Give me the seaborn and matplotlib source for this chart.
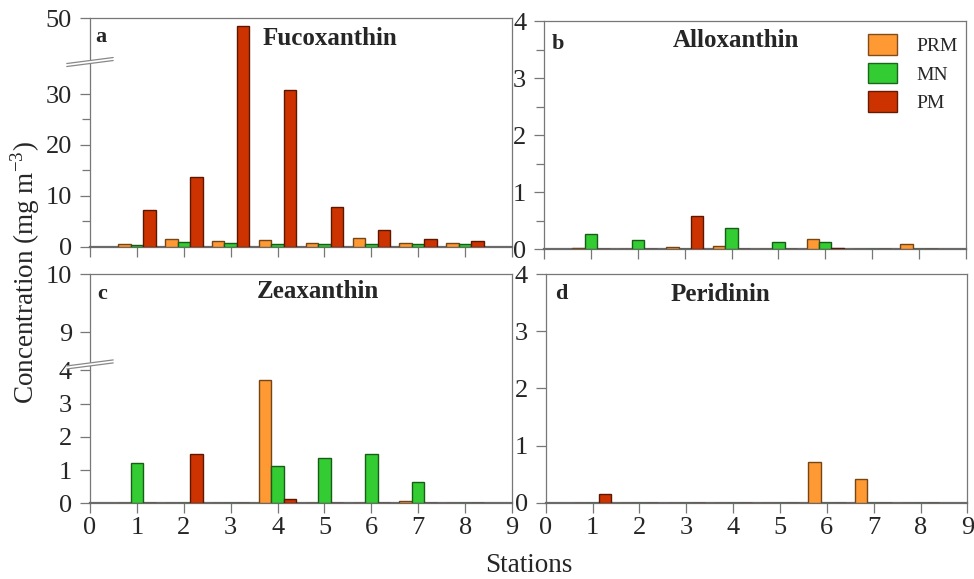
import numpy as np
import pandas as pd
import matplotlib
matplotlib.use("Agg")
import matplotlib.pyplot as plt
from matplotlib.patches import Patch, Polygon
from matplotlib.lines import Line2D
import matplotlib.colors as mcolors
import seaborn as sns

# ---------------- data ----------------
stations = [1, 2, 3, 4, 5, 6, 7, 8]
groups = ["PRM", "MN", "PM"]

fuco_prm = [0.5, 1.6, 1.1, 1.3, 0.65, 1.65, 0.65, 0.65]
fuco_mn = [0.3, 0.85, 0.65, 0.45, 0.6, 0.45, 0.6, 0.45]
fuco_pm = [7.2, 13.75, 48.2, 30.7, 7.75, 3.3, 1.5, 1.1]

allo_prm = [0.025, 0.005, 0.04, 0.055, 0.005, 0.175, 0.005, 0.09]
allo_mn = [0.265, 0.155, 0.0, 0.37, 0.125, 0.125, 0.005, 0.005]
allo_pm = [0.005, 0.005, 0.59, 0.005, 0.005, 0.025, 0.005, 0.005]

zea_prm = [0.0, 0.0, 0.02, 3.72, 0.0, 0.0, 0.07, 0.0]
zea_mn = [1.2, 0.0, 0.0, 1.13, 1.37, 1.49, 0.63, 0.0]
zea_pm = [0.0, 1.47, 0.0, 0.14, 0.0, 0.02, 0.0, 0.0]

peri_prm = [0.0, 0.0, 0.0, 0.0, 0.0, 0.72, 0.41, 0.0]
peri_mn = [0.0, 0.0, 0.0, 0.0, 0.0, 0.0, 0.0, 0.0]
peri_pm = [0.145, 0.0, 0.0, 0.0, 0.0, 0.0, 0.0, 0.0]

colors = {"PRM": "#FF9933", "MN": "#33CC33", "PM": "#CC3300"}

x_ticks = list(range(10))


def long_df(prm, mn, pm):
    rows = []
    for g, vals in zip(groups, [prm, mn, pm]):
        for s, v in zip(stations, vals):
            rows.append({"station": s, "group": g, "value": v})
    return pd.DataFrame(rows)


def darken(c, f=0.45):
    r, g, b, a = mcolors.to_rgba(c)
    return (r * f, g * f, b * f, 1)


def break_funcs(L, U, s, eps=1e-3):
    tU = L + (U - L) * eps

    def fwd(y):
        y = np.asarray(y, float)
        return np.where(y <= L, y, np.where(y >= U, tU + (y - U) * s, L + (y - L) * eps))

    def inv(t):
        t = np.asarray(t, float)
        return np.where(t <= L, t, np.where(t >= tU, U + (t - tU) / s, L + (t - L) / eps))

    return fwd, inv


sns.set_style("ticks")
plt.rcParams["font.family"] = ["Liberation Serif", "DejaVu Serif"]
plt.rcParams["mathtext.fontset"] = "custom"
plt.rcParams["mathtext.rm"] = "Liberation Serif"

fig = plt.figure(figsize=(9.74, 5.79), dpi=100)

pos = {
    "a": [0.0924, 0.5739, 0.4333, 0.3945],
    "b": [0.5588, 0.5694, 0.4327, 0.3938],
    "c": [0.0924, 0.1307, 0.4333, 0.3955],
    "d": [0.5603, 0.1318, 0.4329, 0.3945],
}

panels = [
    ("a", "Fucoxanthin", long_df(fuco_prm, fuco_mn, fuco_pm), (0.408, 0.883), (0.013, 0.897)),
    ("b", "Alloxanthin", long_df(allo_prm, allo_mn, allo_pm), (0.306, 0.889), (0.018, 0.877)),
    ("c", "Zeaxanthin", long_df(zea_prm, zea_mn, zea_pm), (0.395, 0.895), (0.016, 0.891)),
    ("d", "Peridinin", long_df(peri_prm, peri_mn, peri_pm), (0.296, 0.884), (0.022, 0.890)),
]

spine_col = "#777777"
axes = {}
for key, title, df, tpos, lpos in panels:
    ax = fig.add_axes(pos[key])
    axes[key] = ax
    sns.barplot(data=df, x="station", y="value", hue="group", hue_order=groups,
                palette=colors, native_scale=True, width=0.8, errorbar=None,
                legend=False, linewidth=1.0, ax=ax, saturation=1)
    for p in ax.patches:
        p.set_edgecolor(darken(p.get_facecolor()))
        p.set_zorder(3)
    ax.set_xlim(0, 9)
    ax.set_xticks(x_ticks)
    ax.set_xlabel("")
    ax.set_ylabel("")
    for sp in ax.spines.values():
        sp.set_visible(True)
        sp.set_color(spine_col)
        sp.set_linewidth(0.9)
    ax.spines["bottom"].set_linewidth(1.6)
    ax.spines["bottom"].set_color("#6a6a6a")
    ax.tick_params(axis="both", which="major", direction="out", length=7,
                   width=0.9, color=spine_col, labelsize=19, pad=5)
    ax.tick_params(axis="y", which="major", pad=6)
    ax.tick_params(axis="y", which="minor", direction="out", length=5.5,
                   width=0.9, color=spine_col)
    ax.tick_params(axis="x", which="minor", bottom=False)
    if key in ("a", "b"):
        ax.tick_params(axis="x", labelbottom=False)
    else:
        ax.tick_params(axis="x", pad=3)
    ax.text(tpos[0], tpos[1], title, transform=ax.transAxes, fontsize=18,
            fontweight="bold", ha="left", va="baseline")
    ax.text(lpos[0], lpos[1], key, transform=ax.transAxes, fontsize=16,
            fontweight="bold", ha="left", va="baseline")


def draw_break(ax, yf, h_px):
    x0, x1 = -0.055, 0.055
    rise = 6.0 / h_px
    gap = 3.0 / h_px
    ya0, ya1 = yf - rise / 2, yf + rise / 2
    poly = Polygon([[x0, ya0], [x1, ya1], [x1, ya1 + gap], [x0, ya0 + gap]],
                   closed=True, transform=ax.transAxes, facecolor="white",
                   edgecolor="none", clip_on=False, zorder=10)
    ax.add_patch(poly)
    for off in (0, gap):
        ax.add_line(Line2D([x0, x1], [ya0 + off, ya1 + off], transform=ax.transAxes,
                           color="#888888", lw=0.9, clip_on=False, zorder=11))


# panel a: broken axis
ax = axes["a"]
fwd, inv = break_funcs(36.1, 40.0, 0.877)
ax.set_yscale("function", functions=(fwd, inv))
ax.set_ylim(0, 50)
ax.set_yticks([0, 10, 20, 30, 50], labels=["0", "10", "20", "30", "50"])
ax.set_yticks([5, 15, 25], minor=True)
draw_break(ax, 0.802, 228.4)

# panel b
ax = axes["b"]
ax.set_ylim(0, 4)
ax.set_yticks([0, 1, 2, 3, 4], labels=["0", "1", "2", "3", "4"])
ax.set_yticks([0.5, 1.5, 2.5, 3.5], minor=True)
handles = [Patch(facecolor=colors[g], edgecolor=darken(colors[g], 0.5), label=g) for g in groups]
ax.legend(handles=handles, loc="upper right", frameon=False, fontsize=14,
          handlelength=1.5, handleheight=1.25, handletextpad=1.0,
          labelspacing=0.4, borderaxespad=0.5, bbox_to_anchor=(1.022, 1.02))

# panel c: broken axis
ax = axes["c"]
fwd, inv = break_funcs(4.12, 8.41, 1.74)
ax.set_yscale("function", functions=(fwd, inv))
ax.set_ylim(0, 10)
ax.set_yticks([0, 1, 2, 3, 4, 9, 10], labels=["0", "1", "2", "3", "4", "9", "10"])
ax.set_yticks([], minor=True)
draw_break(ax, 0.60, 229.0)

# panel d
ax = axes["d"]
ax.set_ylim(0, 4)
ax.set_yticks([0, 1, 2, 3, 4], labels=["0", "1", "2", "3", "4"])
ax.set_yticks([], minor=True)

fig.text(0.026, 0.53, "Concentration (mg m$^{-3}$)", rotation=90, fontsize=19.5,
         ha="center", va="center")
fig.text(0.543, 0.024, "Stations", fontsize=19.5, ha="center", va="center")

fig.savefig("out.png", dpi=100)
